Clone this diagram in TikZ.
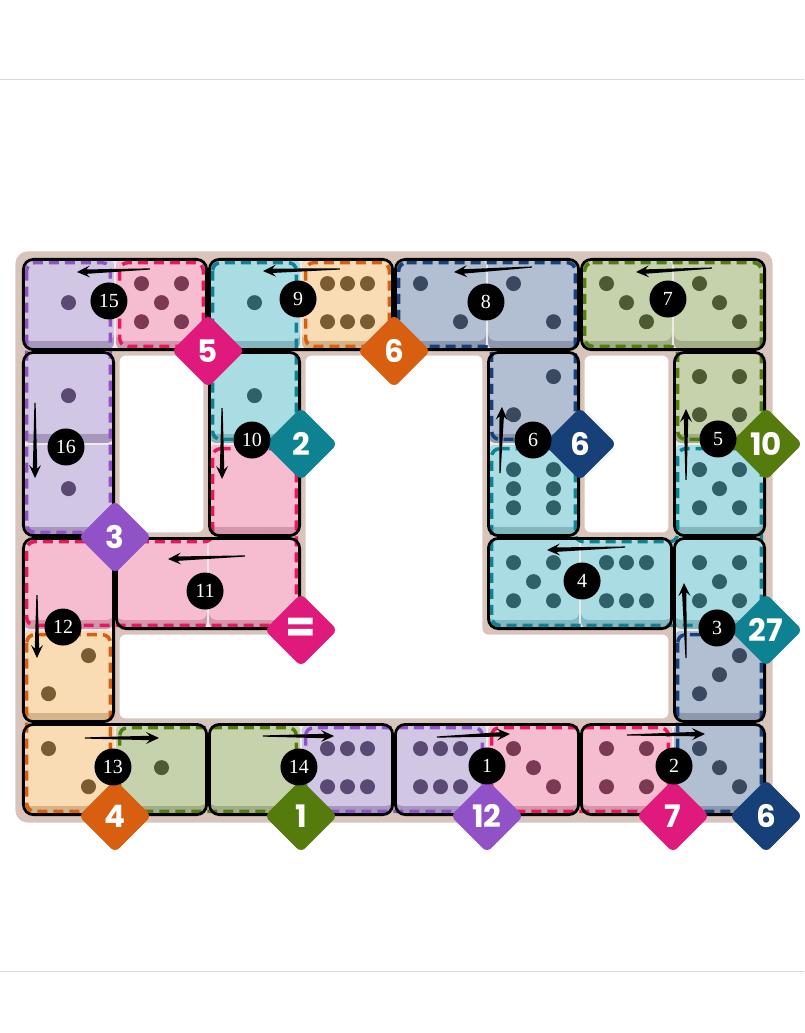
\documentclass[tikz,border=0pt]{standalone}
\usepackage{fontspec}
\usepackage{xcolor}
\usepackage{tikz}
\usetikzlibrary{arrows.meta, calc}
\usetikzlibrary{shapes.geometric}
\newfontfamily\badgefont{Poppins}
\newfontfamily\numfont{Liberation Serif}
\definecolor{boardbeige}{HTML}{D9C4BC}
\definecolor{domfill}{HTML}{EFE9E8}
\definecolor{purpleface}{HTML}{D2C6E5}
\definecolor{purpleside}{HTML}{A797BF}
\definecolor{purplepip}{HTML}{5A4972}
\definecolor{purplemain}{HTML}{9152C8}
\definecolor{pinkface}{HTML}{F6BDD1}
\definecolor{pinkside}{HTML}{D495AD}
\definecolor{pinkpip}{HTML}{7C3954}
\definecolor{pinkmain}{HTML}{E01A7C}
\definecolor{pinkdash}{HTML}{E6185F}
\definecolor{tealface}{HTML}{A9DCE3}
\definecolor{tealside}{HTML}{82B7BF}
\definecolor{tealpip}{HTML}{2E6268}
\definecolor{tealmain}{HTML}{0F8291}
\definecolor{orangeface}{HTML}{F9DCB4}
\definecolor{orangeside}{HTML}{D6B48A}
\definecolor{orangepip}{HTML}{7B5B32}
\definecolor{orangemain}{HTML}{D75F0F}
\definecolor{navyface}{HTML}{B2BED2}
\definecolor{navyside}{HTML}{8D98AE}
\definecolor{navypip}{HTML}{3A4960}
\definecolor{navymain}{HTML}{173F78}
\definecolor{greenface}{HTML}{C6D2AC}
\definecolor{greenside}{HTML}{A1AE88}
\definecolor{greenpip}{HTML}{4D5B32}
\definecolor{greenmain}{HTML}{567B0D}

\newcommand{\dieone}{0/0}
\newcommand{\dietwoa}{-1/-1,1/1}
\newcommand{\dietwob}{1/-1,-1/1}
\newcommand{\diethreea}{-1/-1,0/0,1/1}
\newcommand{\diethreeb}{1/-1,0/0,-1/1}
\newcommand{\diefour}{-1/-1,1/-1,-1/1,1/1}
\newcommand{\diefive}{-1/-1,1/-1,0/0,-1/1,1/1}
\newcommand{\diesixh}{-1/-1,0/-1,1/-1,-1/1,0/1,1/1}
\newcommand{\diesixv}{-1/-1,1/-1,-1/0,1/0,-1/1,1/1}

\newcommand{\cell}[3]{%
    \fill[#3side, rounded corners=7pt] (#1+0.012,#2+0.012) rectangle (#1+0.988,#2+0.988);
    \fill[#3face, rounded corners=7pt] (#1+0.012,#2+0.012) rectangle (#1+0.988,#2+0.89);}
\newcommand{\pips}[4]{%
    \foreach \dx/\dy in #4
        \fill[#3pip] (#1+0.5+0.215*\dx,#2+0.48+0.205*\dy) circle (7.5pt);}
\newcommand{\tarrow}[2]{%
    \coordinate (tl) at #1;
    \coordinate (tp) at #2;
    \coordinate (tb) at ($(tp)!13pt!(tl)$);
    \coordinate (ti) at ($(tp)!9.5pt!(tl)$);
    \fill ($(tl)!0.6pt!90:(tp)$) -- ($(ti)!2.2pt!90:(tp)$) -- ($(tb)!6pt!90:(tp)$) -- (tp)
        -- ($(tb)!6pt!-90:(tp)$) -- ($(ti)!2.2pt!-90:(tp)$) -- ($(tl)!0.6pt!-90:(tp)$) -- cycle;}

\begin{document}
\begin{tikzpicture}[x=93pt, y=-93pt,
        badge/.style={diamond, aspect=1, minimum size=73pt, inner sep=0pt,
            rounded corners=6pt, text=white,
            font=\badgefont\bfseries\fontsize{31}{31}\selectfont},
        num/.style={circle, fill=black, minimum size=37pt, inner sep=0pt,
            text=white, font=\numfont\fontsize{20}{20}\selectfont},
        cage/.style={dash pattern=on 10pt off 6pt, line width=3.5pt, rounded corners=8pt},
        domline/.style={draw=black, line width=2.8pt, rounded corners=10pt}]
        \useasboundingbox (-0.2366,-2.7742) rectangle (8.4086,8.3333);
        \fill[white] (-0.2366,-2.7742) rectangle (8.4086,8.3333);
        \draw[black!15, line width=1pt] (-0.2366,-1.914) -- (8.4086,-1.914);
        \draw[black!15, line width=1pt] (-0.2366,7.677) -- (8.4086,7.677);

        \fill[boardbeige, rounded corners=12pt] (-0.07,-0.07) rectangle (8.07,6.07);
        \fill[white, rounded corners=6pt] (1.05,1.05) rectangle (1.95,2.95);
        \fill[white, rounded corners=6pt] (6.05,1.05) rectangle (6.95,2.95);
        \fill[white, rounded corners=6pt] (3.05,1.05) -- (4.95,1.05) -- (4.95,4.05) -- (6.95,4.05)
            -- (6.95,4.95) -- (1.05,4.95) -- (1.05,4.05) -- (3.05,4.05) -- cycle;

        \foreach \a/\b/\c/\d in {0/0/2/1, 2/0/4/1, 4/0/6/1, 6/0/8/1, 0/1/1/3, 2/1/3/3, 5/1/6/3, 7/1/8/3,
                0/3/1/5, 1/3/3/4, 5/3/7/4, 7/3/8/5, 0/5/2/6, 2/5/4/6, 4/5/6/6, 6/5/8/6}
            \fill[domfill, rounded corners=10pt] (\a+0.015,\b+0.015) rectangle (\c-0.015,\d-0.015);

        \foreach \c/\r/\col in {0/0/purple, 1/0/pink, 2/0/teal, 3/0/orange, 4/0/navy, 5/0/navy,
                6/0/green, 7/0/green, 0/1/purple, 2/1/teal, 5/1/navy, 7/1/green,
                0/2/purple, 2/2/pink, 5/2/teal, 7/2/teal, 0/3/pink, 1/3/pink, 2/3/pink,
                5/3/teal, 6/3/teal, 7/3/teal, 0/4/orange, 7/4/navy, 0/5/orange, 1/5/green,
                2/5/green, 3/5/purple, 4/5/purple, 5/5/pink, 6/5/pink, 7/5/navy}
            {\cell{\c}{\r}{\col}}

        \pips{0}{0}{purple}{\dieone}
        \pips{1}{0}{pink}{\diefive}
        \pips{2}{0}{teal}{\dieone}
        \pips{3}{0}{orange}{\diesixh}
        \pips{4}{0}{navy}{\dietwoa}
        \pips{5}{0}{navy}{\dietwoa}
        \pips{6}{0}{green}{\diethreea}
        \pips{7}{0}{green}{\diethreea}
        \pips{0}{1}{purple}{\dieone}
        \pips{2}{1}{teal}{\dieone}
        \pips{5}{1}{navy}{\dietwob}
        \pips{7}{1}{green}{\diefour}
        \pips{0}{2}{purple}{\dieone}
        \pips{5}{2}{teal}{\diesixv}
        \pips{7}{2}{teal}{\diefive}
        \pips{5}{3}{teal}{\diefive}
        \pips{6}{3}{teal}{\diesixh}
        \pips{7}{3}{teal}{\diefive}
        \pips{0}{4}{orange}{\dietwob}
        \pips{7}{4}{navy}{\diethreeb}
        \pips{0}{5}{orange}{\dietwoa}
        \pips{1}{5}{green}{\dieone}
        \pips{3}{5}{purple}{\diesixh}
        \pips{4}{5}{purple}{\diesixh}
        \pips{5}{5}{pink}{\diethreea}
        \pips{6}{5}{pink}{\diefour}
        \pips{7}{5}{navy}{\diethreea}

        \draw[cage, purplemain] (0.05,0.05) rectangle (0.95,2.95);
        \draw[cage, pinkdash] (1.05,0.05) rectangle (1.95,0.95);
        \draw[cage, tealmain] (2.05,0.05) rectangle (2.95,1.95);
        \draw[cage, orangemain] (3.05,0.05) rectangle (3.95,0.95);
        \draw[cage, navymain] (4.05,0.05) -- (5.95,0.05) -- (5.95,1.95) -- (5.05,1.95)
            -- (5.05,0.95) -- (4.05,0.95) -- cycle;
        \draw[cage, greenmain] (6.05,0.05) -- (7.95,0.05) -- (7.95,1.95) -- (7.05,1.95)
            -- (7.05,0.95) -- (6.05,0.95) -- cycle;
        \draw[cage, pinkdash] (2.05,2.05) -- (2.95,2.05) -- (2.95,3.95) -- (0.05,3.95)
            -- (0.05,3.05) -- (2.05,3.05) -- cycle;
        \draw[cage, tealmain] (5.05,2.05) -- (5.95,2.05) -- (5.95,3.05) -- (7.05,3.05)
            -- (7.05,2.05) -- (7.95,2.05) -- (7.95,3.95) -- (5.05,3.95) -- cycle;
        \draw[cage, orangemain] (0.05,4.05) rectangle (0.95,5.95);
        \draw[cage, greenmain] (1.05,5.05) rectangle (2.95,5.95);
        \draw[cage, purplemain] (3.05,5.05) rectangle (4.95,5.95);
        \draw[cage, pinkdash] (5.05,5.05) rectangle (6.95,5.95);
        \draw[cage, navymain] (7.05,4.05) rectangle (7.95,5.95);

        \foreach \a/\b/\c/\d in {0/0/2/1, 2/0/4/1, 4/0/6/1, 6/0/8/1, 0/1/1/3, 2/1/3/3, 5/1/6/3, 7/1/8/3,
                0/3/1/5, 1/3/3/4, 5/3/7/4, 7/3/8/5, 0/5/2/6, 2/5/4/6, 4/5/6/6, 6/5/8/6}
            \draw[domline] (\a+0.015,\b+0.015) rectangle (\c-0.015,\d-0.015);

        \node[badge, fill=pinkmain] (b5) at (2,1) {5};
        \node[badge, fill=orangemain] (b6a) at (4,1) {6};
        \node[badge, fill=tealmain] (b2) at (3,2) {2};
        \node[badge, fill=navymain] (b6b) at (6,2) {6};
        \node[badge, fill=greenmain] (b10) at (8,2) {10};
        \node[badge, fill=purplemain] (b3) at (1,3) {3};
        \node[badge, fill=pinkmain, font=\badgefont\bfseries\fontsize{44}{44}\selectfont] (beq) at (3,4) {=};
        \node[badge, fill=tealmain] (b27) at (8,4) {27};
        \node[badge, fill=orangemain] (b4) at (1,6) {4};
        \node[badge, fill=greenmain] (b1) at (3,6) {1};
        \node[badge, fill=purplemain] (b12) at (5,6) {12};
        \node[badge, fill=pinkmain] (b7) at (7,6) {7};
        \node[badge, fill=navymain] (b6c) at (8,6) {6};

        \tarrow{(4.462,5.151)}{(5.247,5.118)}
        \tarrow{(6.505,5.129)}{(7.344,5.118)}
        \tarrow{(7.140,4.301)}{(7.118,3.495)}
        \tarrow{(6.484,3.108)}{(5.645,3.140)}
        \tarrow{(7.140,2.387)}{(7.140,1.624)}
        \tarrow{(5.140,2.312)}{(5.161,1.602)}
        \tarrow{(7.419,0.108)}{(6.602,0.151)}
        \tarrow{(5.484,0.097)}{(4.645,0.151)}
        \tarrow{(3.419,0.118)}{(2.591,0.140)}
        \tarrow{(2.151,1.613)}{(2.151,2.376)}
        \tarrow{(2.398,3.204)}{(1.570,3.237)}
        \tarrow{(0.161,3.624)}{(0.161,4.301)}
        \tarrow{(0.677,5.161)}{(1.473,5.161)}
        \tarrow{(2.591,5.140)}{(3.355,5.140)}
        \tarrow{(1.376,0.118)}{(0.591,0.151)}
        \tarrow{(0.140,1.559)}{(0.140,2.366)}

        \node[num] (n1) at (5.000,5.462) {1};
        \node[num] (n2) at (7.011,5.462) {2};
        \node[num] (n3) at (7.473,3.978) {3};
        \node[num] (n4) at (6.022,3.473) {4};
        \node[num] (n5) at (7.484,1.946) {5};
        \node[num] (n6) at (5.495,1.957) {6};
        \node[num] (n7) at (6.946,0.441) {7};
        \node[num] (n8) at (4.989,0.473) {8};
        \node[num] (n9) at (2.968,0.441) {9};
        \node[num] (n10) at (2.473,1.957) {10};
        \node[num] (n11) at (1.968,3.581) {11};
        \node[num] (n12) at (0.441,3.968) {12};
        \node[num] (n13) at (0.978,5.473) {13};
        \node[num] (n14) at (2.978,5.473) {14};
        \node[num] (n15) at (0.935,0.462) {15};
        \node[num] (n16) at (0.473,2.032) {16};
    \end{tikzpicture}
\end{document}
